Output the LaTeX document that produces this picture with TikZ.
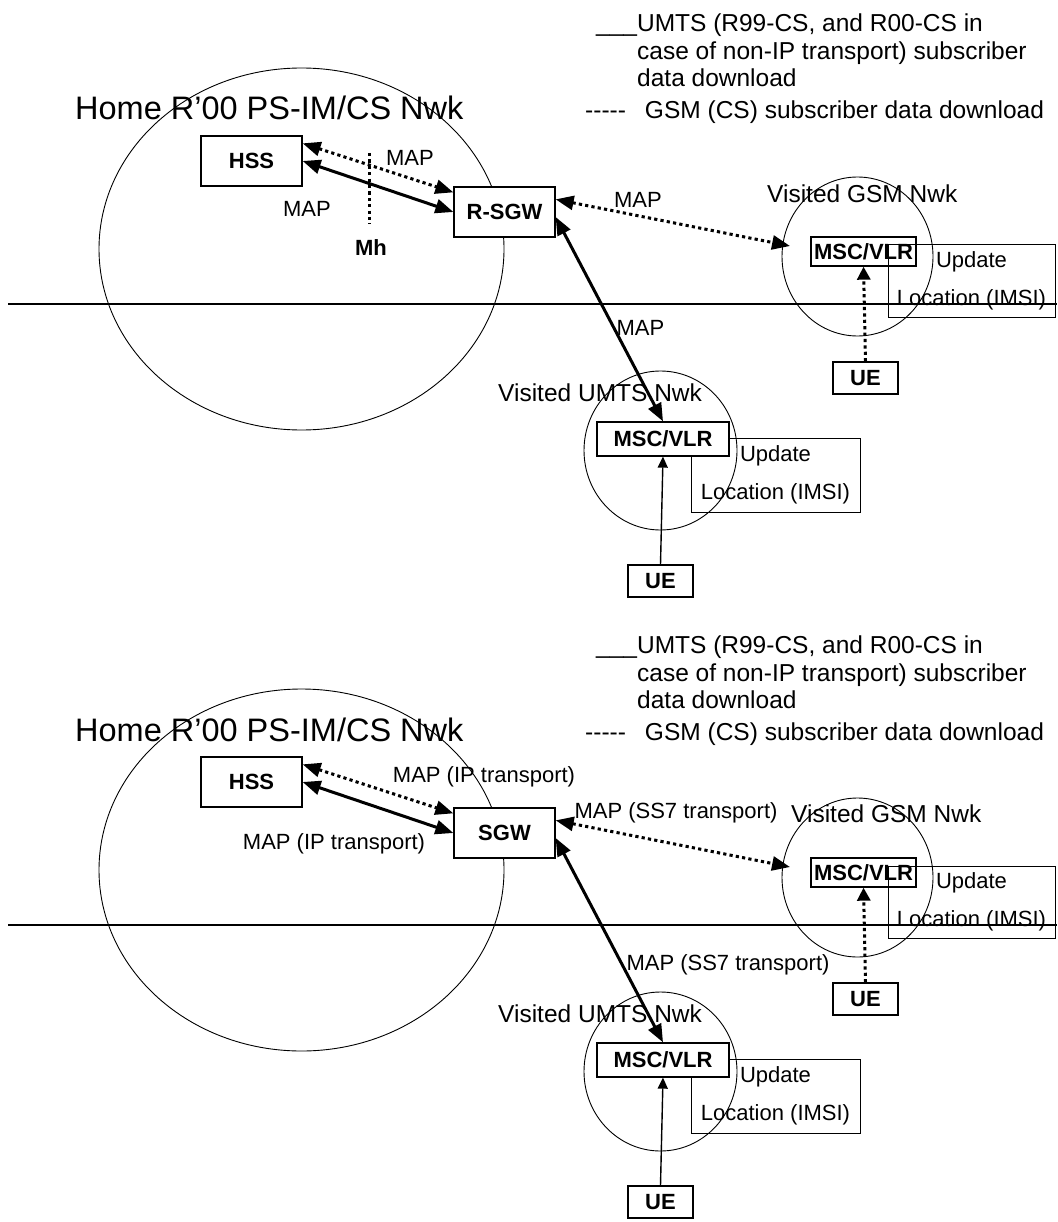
\documentclass[tikz,border=0pt]{standalone}
\usepackage{fontspec}
\setmainfont{Liberation Sans}
\usetikzlibrary{arrows.meta}

\tikzset{
    box/.style={draw, fill=white, line width=1.3pt, inner sep=0pt,
        font=\fontsize{22}{26}\selectfont\bfseries},
    lbl/.style={inner sep=1pt, font=\fontsize{22}{26}\selectfont},
    bigtext/.style={anchor=base west, inner sep=0pt, font=\fontsize{24.5}{28}\selectfont},
    note/.style={draw, line width=1pt, align=center, inner sep=0pt,
        font=\fontsize{22}{38}\selectfont},
    umts/.style={line width=3pt,
        {Triangle[length=18pt,width=14pt]}-{Triangle[length=18pt,width=14pt]}},
    gsm/.style={umts, dash pattern=on 3.2pt off 3.2pt},
    uelink/.style={line width=1.4pt, -{Triangle[length=11pt,width=10pt]}},
    uedots/.style={line width=3pt, dash pattern=on 3.2pt off 3.2pt,
        -{Triangle[length=13pt,width=13pt]}},
}

\begin{document}
\begin{tikzpicture}[x=1pt, y=-1pt]
    \useasboundingbox (0,0) rectangle (1057,1222);

    % ---------- upper picture ----------
    % Legend
    \node[bigtext] (leg1) at (596,32) {\_\_\_UMTS (R99-CS, and R00-CS in};
    \node[bigtext] (leg2) at (637,60) {case of non-IP transport) subscriber};
    \node[bigtext] (leg3) at (637,87) {data download};
    \node[bigtext] (leg4) at (585,119) {-{}-{}-{}-{}-\hspace{19pt}GSM (CS) subscriber data download};

    % Home network
    \draw[line width=0.9pt] (301.5,249) ellipse [x radius=202.5pt, y radius=181pt];
    \node[anchor=base west, inner sep=0pt, font=\fontsize{32.5}{36}\selectfont]
        (home) at (75,120) {Home R’00 PS-IM/CS Nwk};
    \draw[line width=1.2pt] (8,304) -- (1057,304);

    \node[box, minimum width=101pt, minimum height=50pt] (hss) at (251.5,161) {HSS};
    \node[box, minimum width=101pt, minimum height=50pt] (rsgw) at (504.5,212) {R-SGW};
    \draw[gsm] ([yshift=-8pt]hss.north east) -- ([yshift=-6pt]rsgw.north west);
    \draw[umts] (hss.east) -- (rsgw.west);
    \node[lbl] (map1) at (410,158) {MAP};
    \node[lbl] (map2) at (307,209) {MAP};

    % Mh reference point
    \coordinate (mhtop) at (369,153);
    \coordinate (mhbot) at (369,224);
    \draw[line width=3pt, dash pattern=on 3.2pt off 3.2pt] (mhtop) -- (mhbot);
    \node[lbl, font=\fontsize{22}{26}\selectfont\bfseries] (mh) at (371,248) {Mh};

    % Visited GSM network
    \draw[line width=0.9pt] (857.5,256.5) ellipse [x radius=75.5pt, y radius=79.5pt];
    \node[bigtext] (gsmname) at (767,203) {Visited GSM Nwk};
    \node[box, fill=none, minimum width=105pt, minimum height=29pt] (gmsc) at (863.5,251.5) {MSC/VLR};
    \node[note, minimum width=167pt, minimum height=72pt] (gupd) at (971.5,281) {Update\\Location (IMSI)};
    \node[box, minimum width=65pt, minimum height=32pt] (gue) at (865.5,378) {UE};
    \draw[uedots] (gue.north) -- (gmsc.south);
    \coordinate (gin) at (790,246);
    \draw[gsm] ([yshift=-13pt]rsgw.north east) -- (gin);
    \node[lbl] (map3) at (638,200) {MAP};

    % Visited UMTS network
    \draw[line width=0.9pt] (660.5,450.5) ellipse [x radius=76.5pt, y radius=79.5pt];
    \node[bigtext] (umtsname) at (498,401) {Visited UMTS Nwk};
    \node[note, minimum width=169pt, minimum height=74pt] (uupd) at (775.5,475) {Update\\Location (IMSI)};
    \node[box, minimum width=132pt, minimum height=34pt] (umsc) at (663,439) {MSC/VLR};
    \node[box, minimum width=65pt, minimum height=32pt] (uue) at (660.5,581) {UE};
    \draw[uelink] (uue.north) -- (umsc.south);
    \draw[umts] ([yshift=-5pt]rsgw.east) -- (umsc.north);
    \node[lbl] (map4) at (640.5,328) {MAP};

    % ---------- lower picture ----------
    \begin{scope}[shift={(0,621)}]
    % Legend
    \node[bigtext] (legB1) at (596,32) {\_\_\_UMTS (R99-CS, and R00-CS in};
    \node[bigtext] (legB2) at (637,60) {case of non-IP transport) subscriber};
    \node[bigtext] (legB3) at (637,87) {data download};
    \node[bigtext] (legB4) at (585,119) {-{}-{}-{}-{}-\hspace{19pt}GSM (CS) subscriber data download};

    % Home network
    \draw[line width=0.9pt] (301.5,249) ellipse [x radius=202.5pt, y radius=181pt];
    \node[anchor=base west, inner sep=0pt, font=\fontsize{32.5}{36}\selectfont]
        (homeB) at (75,120) {Home R’00 PS-IM/CS Nwk};
    \draw[line width=1.2pt] (8,304) -- (1057,304);

    \node[box, minimum width=101pt, minimum height=50pt] (hssB) at (251.5,161) {HSS};
    \node[box, minimum width=101pt, minimum height=50pt] (sgw) at (504.5,212) {SGW};
    \draw[gsm] ([yshift=-8pt]hssB.north east) -- ([yshift=-6pt]sgw.north west);
    \draw[umts] (hssB.east) -- (sgw.west);
    \node[lbl] (mapB1) at (484,156) {MAP (IP transport)};
    \node[lbl] (mapB2) at (334,223) {MAP (IP transport)};

    % Visited GSM network
    \draw[line width=0.9pt] (857.5,256.5) ellipse [x radius=75.5pt, y radius=79.5pt];
    \node[bigtext] (gsmnameB) at (791,201) {Visited GSM Nwk};
    \node[box, fill=none, minimum width=105pt, minimum height=29pt] (gmscB) at (863.5,251.5) {MSC/VLR};
    \node[note, minimum width=167pt, minimum height=72pt] (gupdB) at (971.5,281) {Update\\Location (IMSI)};
    \node[box, minimum width=65pt, minimum height=32pt] (gueB) at (865.5,378) {UE};
    \draw[uedots] (gueB.north) -- (gmscB.south);
    \coordinate (ginB) at (790,246);
    \draw[gsm] ([yshift=-13pt]sgw.north east) -- (ginB);
    \node[lbl] (mapB3) at (676,192) {MAP (SS7 transport)};

    % Visited UMTS network
    \draw[line width=0.9pt] (660.5,450.5) ellipse [x radius=76.5pt, y radius=79.5pt];
    \node[bigtext] (umtsnameB) at (498,401) {Visited UMTS Nwk};
    \node[note, minimum width=169pt, minimum height=74pt] (uupdB) at (775.5,475) {Update\\Location (IMSI)};
    \node[box, minimum width=132pt, minimum height=34pt] (umscB) at (663,439) {MSC/VLR};
    \node[box, minimum width=65pt, minimum height=32pt] (uueB) at (660.5,581) {UE};
    \draw[uelink] (uueB.north) -- (umscB.south);
    \draw[umts] ([yshift=-5pt]sgw.east) -- (umscB.north);
    \node[lbl] (mapB4) at (728,344) {MAP (SS7 transport)};
    \end{scope}
\end{tikzpicture}
\end{document}
